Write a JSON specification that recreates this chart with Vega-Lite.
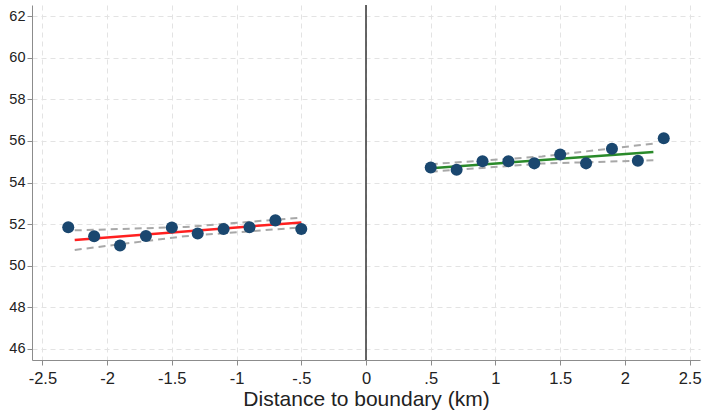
{
  "$schema": "https://vega.github.io/schema/vega-lite/v6.json",
  "width": 668,
  "height": 355,
  "autosize": {"type": "none"},
  "padding": {"left": 32, "top": 5, "right": 7, "bottom": 57},
  "background": "white",
  "config": {
    "view": {"stroke": null},
    "font": "Liberation Sans",
    "axis": {
      "grid": true,
      "gridColor": "#e3e3e3",
      "gridDash": [5, 4],
      "gridWidth": 1,
      "domainColor": "#8c8c8c",
      "tickColor": "#8c8c8c",
      "tickSize": 5,
      "labelColor": "#222222",
      "titleColor": "#222222",
      "titleFontWeight": "normal"
    }
  },
  "datasets": {
    "points": [
      {"x": -2.3, "y": 51.85}, {"x": -2.1, "y": 51.42}, {"x": -1.9, "y": 50.97},
      {"x": -1.7, "y": 51.43}, {"x": -1.5, "y": 51.84}, {"x": -1.3, "y": 51.55},
      {"x": -1.1, "y": 51.77}, {"x": -0.9, "y": 51.85}, {"x": -0.7, "y": 52.18},
      {"x": -0.5, "y": 51.77},
      {"x": 0.5, "y": 54.72}, {"x": 0.7, "y": 54.61}, {"x": 0.9, "y": 55.02},
      {"x": 1.1, "y": 55.02}, {"x": 1.3, "y": 54.92}, {"x": 1.5, "y": 55.35},
      {"x": 1.7, "y": 54.92}, {"x": 1.9, "y": 55.62}, {"x": 2.1, "y": 55.05},
      {"x": 2.3, "y": 56.13}
    ],
    "fits": [
      {"x": -2.25, "y": 51.24, "line": "L_fit"}, {"x": -0.5, "y": 52.08, "line": "L_fit"},
      {"x": 0.5, "y": 54.69, "line": "R_fit"}, {"x": 2.22, "y": 55.46, "line": "R_fit"}
    ],
    "cis": [
      {"x": -2.25, "y": 51.7, "line": "L_hi"}, {"x": -1.4, "y": 51.86, "line": "L_hi"}, {"x": -0.5, "y": 52.31, "line": "L_hi"},
      {"x": -2.25, "y": 50.76, "line": "L_lo"}, {"x": -1.4, "y": 51.42, "line": "L_lo"}, {"x": -0.5, "y": 51.84, "line": "L_lo"},
      {"x": 0.5, "y": 54.88, "line": "R_hi"}, {"x": 1.36, "y": 55.25, "line": "R_hi"}, {"x": 2.22, "y": 55.87, "line": "R_hi"},
      {"x": 0.5, "y": 54.52, "line": "R_lo"}, {"x": 1.36, "y": 54.91, "line": "R_lo"}, {"x": 2.22, "y": 55.07, "line": "R_lo"}
    ],
    "zero": [{"x": 0}]
  },
  "encoding": {
    "x": {
      "field": "x", "type": "quantitative",
      "scale": {"domain": [-2.58, 2.58], "nice": false, "zero": false},
      "axis": {
        "values": [-2.5, -2, -1.5, -1, -0.5, 0, 0.5, 1, 1.5, 2, 2.5],
        "labelExpr": "datum.value == 0.5 ? '.5' : datum.value == -0.5 ? '-.5' : '' + datum.value",
        "labelFontSize": 16.5,
        "labelPadding": 5,
        "title": "Distance to boundary (km)",
        "titleFontSize": 21,
        "titlePadding": 2
      }
    },
    "y": {
      "field": "y", "type": "quantitative",
      "scale": {"domain": [45.47, 62.53], "nice": false, "zero": false},
      "axis": {
        "values": [46, 48, 50, 52, 54, 56, 58, 60, 62],
        "labelFontSize": 14.5,
        "labelPadding": 2,
        "title": null
      }
    }
  },
  "layer": [
    {
      "data": {"name": "zero"},
      "mark": {"type": "rule", "color": "#333333", "strokeWidth": 1.5},
      "encoding": {"x": {"field": "x", "type": "quantitative"}, "y": null}
    },
    {
      "data": {"name": "cis"},
      "mark": {"type": "line", "color": "#a8a8a8", "strokeWidth": 2, "strokeDash": [7, 5]},
      "encoding": {"detail": {"field": "line"}}
    },
    {
      "data": {"name": "fits"},
      "mark": {"type": "line", "strokeWidth": 2.5},
      "encoding": {
        "detail": {"field": "line"},
        "color": {
          "field": "line", "type": "nominal",
          "scale": {"domain": ["L_fit", "R_fit"], "range": ["#ff2020", "#2a8a2a"]},
          "legend": null
        }
      }
    },
    {
      "data": {"name": "points"},
      "mark": {"type": "circle", "color": "#1a476f", "opacity": 1, "size": 145}
    }
  ]
}
